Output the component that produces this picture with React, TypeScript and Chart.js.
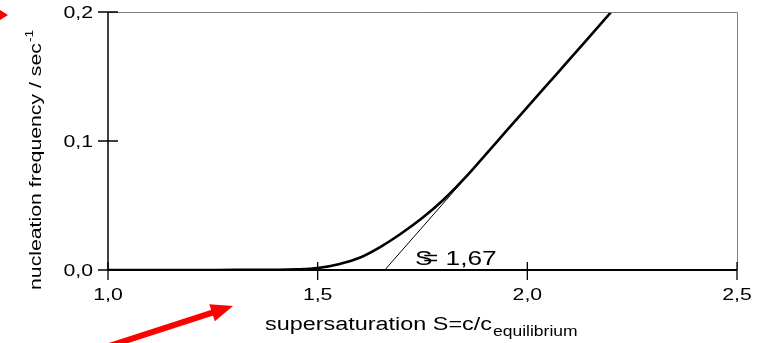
import React, { useEffect, useRef } from "react";
import { Chart, registerables } from "chart.js";

Chart.register(...registerables);

// ---- data ----
const SUPERSATURATION: number[] = [1.0, 1.2, 1.3, 1.4, 1.45, 1.5, 1.55, 1.6, 1.65, 1.7, 1.75, 1.8, 1.85, 1.9, 1.95, 2.0, 2.05, 2.1, 2.15, 2.2];
const NUCLEATION_FREQ: number[] = [0, 0, 0.0001, 0.0002, 0.0005, 0.0015, 0.0045, 0.0095, 0.018, 0.0285, 0.0405, 0.0545, 0.071, 0.0893, 0.1078, 0.1262, 0.1446, 0.163, 0.1815, 0.2];
const TANGENT_X: number[] = [1.66, 2.2];
const TANGENT_Y: number[] = [0, 0.2];
const X_TICKS: number[] = [1.0, 1.5, 2.0, 2.5];
const X_TICK_LABELS: string[] = ["1,0", "1,5", "2,0", "2,5"];
const Y_TICKS: number[] = [0, 0.1, 0.2];
const Y_TICK_LABELS: string[] = ["0,0", "0,1", "0,2"];
const CRIT_LABEL_S = "S";
const CRIT_LABEL_REST = "= 1,67";
const X_TITLE_MAIN = "supersaturation S=c/c";
const X_TITLE_SUB = "equilibrium";
const Y_TITLE_MAIN = "nucleation frequency / sec";
const Y_TITLE_SUP = "-1";

const FONT = '"Liberation Sans", Arial, sans-serif';
const SX = 1.25;

function drawStretched(ctx: CanvasRenderingContext2D, text: string, x: number, y: number, align: CanvasTextAlign, baseline: CanvasTextBaseline, sx: number = SX) {
  ctx.save();
  ctx.translate(x, y);
  ctx.scale(sx, 1);
  ctx.textAlign = align;
  ctx.textBaseline = baseline;
  ctx.fillText(text, 0, 0);
  ctx.restore();
}

const framePlugin = {
  id: "frame",
  afterDatasetsDraw(chart: any) {
    const ctx: CanvasRenderingContext2D = chart.ctx;
    const xs = chart.scales.x;
    const ys = chart.scales.y;
    const { left, right, top, bottom } = chart.chartArea;
    ctx.save();
    // gray top/right frame
    ctx.strokeStyle = "#7f7f7f";
    ctx.lineWidth = 1;
    ctx.beginPath();
    ctx.moveTo(left, top + 0.5);
    ctx.lineTo(right + 0.5, top + 0.5);
    ctx.lineTo(right + 0.5, bottom);
    ctx.stroke();
    // black axes
    ctx.strokeStyle = "#000";
    ctx.lineWidth = 1.5;
    ctx.beginPath();
    ctx.moveTo(left, top);
    ctx.lineTo(left, bottom);
    ctx.stroke();
    ctx.lineWidth = 2;
    ctx.beginPath();
    ctx.moveTo(left, bottom);
    ctx.lineTo(right, bottom);
    ctx.stroke();
    // ticks
    ctx.lineWidth = 1.3;
    ctx.beginPath();
    X_TICKS.forEach((v) => {
      const px = xs.getPixelForValue(v);
      ctx.moveTo(px, bottom - 8);
      ctx.lineTo(px, bottom + 10);
    });
    Y_TICKS.forEach((v) => {
      const py = ys.getPixelForValue(v);
      ctx.moveTo(left - 10, py);
      ctx.lineTo(left + 10, py);
    });
    ctx.stroke();
    // tick labels
    ctx.fillStyle = "#000";
    ctx.font = `17px ${FONT}`;
    X_TICKS.forEach((v, i) => {
      drawStretched(ctx, X_TICK_LABELS[i], xs.getPixelForValue(v), bottom + 30, "center", "alphabetic");
    });
    Y_TICKS.forEach((v, i) => {
      drawStretched(ctx, Y_TICK_LABELS[i], left - 15, ys.getPixelForValue(v) + 6, "right", "alphabetic");
    });
    // annotation S= 1,67
    ctx.font = `21px ${FONT}`;
    const ax = xs.getPixelForValue(1.732);
    const ay = ys.getPixelForValue(0) - 5;
    drawStretched(ctx, CRIT_LABEL_S, ax, ay, "left", "alphabetic");
    drawStretched(ctx, CRIT_LABEL_REST, ax + 8, ay, "left", "alphabetic");
    // x title
    ctx.font = `18px ${FONT}`;
    const tx = 265;
    const tyb = 330;
    drawStretched(ctx, X_TITLE_MAIN, tx, tyb, "left", "alphabetic", 1.3);
    const w = ctx.measureText(X_TITLE_MAIN).width * 1.3;
    ctx.font = `14px ${FONT}`;
    drawStretched(ctx, X_TITLE_SUB, tx + w + 1, tyb + 6, "left", "alphabetic");
    // y title (rotated)
    ctx.save();
    ctx.translate(41, 290);
    ctx.rotate(-Math.PI / 2);
    ctx.font = `17px ${FONT}`;
    drawStretched(ctx, Y_TITLE_MAIN, 0, 0, "left", "alphabetic");
    const wy = ctx.measureText(Y_TITLE_MAIN).width * SX;
    ctx.font = `11px ${FONT}`;
    drawStretched(ctx, Y_TITLE_SUP, wy + 1, -8, "left", "alphabetic");
    ctx.restore();
    // red arrows
    ctx.fillStyle = "#ff0000";
    ctx.strokeStyle = "#ff0000";
    // bottom arrow
    const tip = { x: 233, y: 306 };
    const tail = { x: 100, y: 349 };
    const ang = Math.atan2(tip.y - tail.y, tip.x - tail.x);
    const headLen = 22;
    const headW = 9;
    const bx = tip.x - headLen * Math.cos(ang);
    const by = tip.y - headLen * Math.sin(ang);
    ctx.lineWidth = 6;
    ctx.beginPath();
    ctx.moveTo(tail.x, tail.y);
    ctx.lineTo(bx + 2 * Math.cos(ang), by + 2 * Math.sin(ang));
    ctx.stroke();
    ctx.beginPath();
    ctx.moveTo(tip.x, tip.y);
    ctx.lineTo(bx + headW * Math.sin(ang), by - headW * Math.cos(ang));
    ctx.lineTo(bx - headW * Math.sin(ang), by + headW * Math.cos(ang));
    ctx.closePath();
    ctx.fill();
    // top-left arrow head
    ctx.beginPath();
    ctx.moveTo(8, 15);
    ctx.lineTo(0, 10);
    ctx.lineTo(0, 20);
    ctx.closePath();
    ctx.fill();
    ctx.restore();
  },
};

export default function App() {
  const canvasRef = useRef<HTMLCanvasElement | null>(null);

  useEffect(() => {
    if (!canvasRef.current) return;
    const curve = SUPERSATURATION.map((x, i) => ({ x, y: NUCLEATION_FREQ[i] }));
    const tangent = TANGENT_X.map((x, i) => ({ x, y: TANGENT_Y[i] }));
    const chart = new Chart(canvasRef.current, {
      type: "line",
      data: {
        datasets: [
          {
            label: "nucleation frequency",
            data: curve,
            borderColor: "#000",
            borderWidth: 2.6,
            pointRadius: 0,
            cubicInterpolationMode: "monotone",
            fill: false,
          },
          {
            label: "tangent",
            data: tangent,
            borderColor: "#000",
            borderWidth: 1,
            pointRadius: 0,
            fill: false,
          },
        ],
      },
      options: {
        animation: false,
        responsive: false,
        maintainAspectRatio: false,
        layout: { padding: { left: 108, right: 26, top: 12, bottom: 73 } },
        plugins: { legend: { display: false }, tooltip: { enabled: false } },
        scales: {
          x: { type: "linear", min: 1, max: 2.5, display: false },
          y: { type: "linear", min: 0, max: 0.2, display: false },
        },
      },
      plugins: [framePlugin],
    } as any);
    return () => chart.destroy();
  }, []);

  return (
    <div style={{ position: "fixed", left: 0, top: 0, width: 763, height: 343, background: "#fff" }}>
      <canvas ref={canvasRef} width={763} height={343} style={{ width: 763, height: 343, display: "block" }} />
    </div>
  );
}
